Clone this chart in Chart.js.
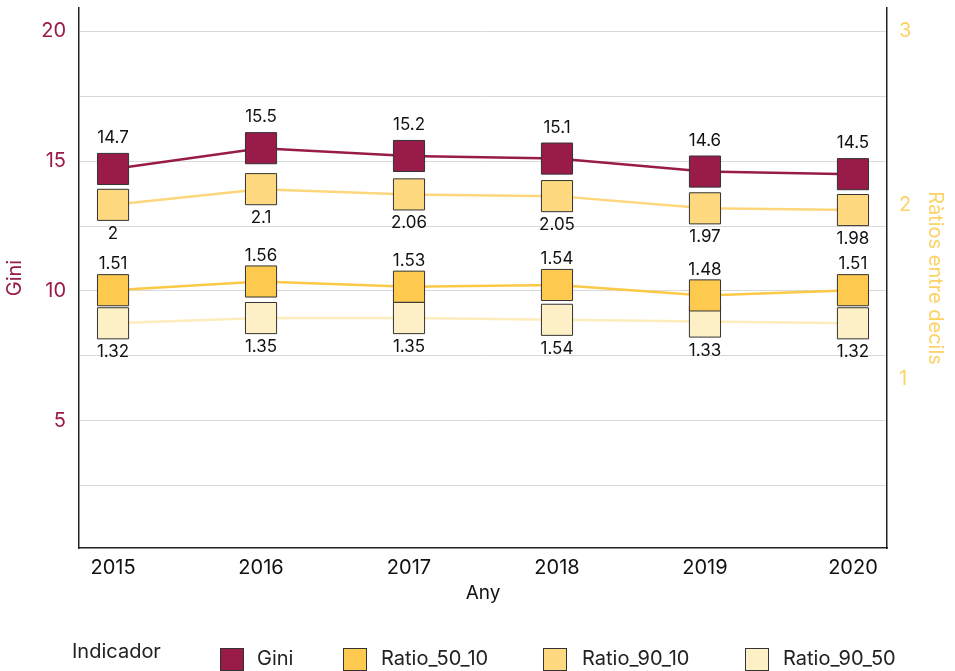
<!DOCTYPE html>
<html>
<head>
<meta charset="utf-8">
<script src="https://cdn.jsdelivr.net/npm/chart.js@4.4.1/dist/chart.umd.min.js"></script>
<style>
  html, body { margin: 0; padding: 0; background: #fff; }
  #wrap { position: relative; width: 955px; height: 671px; font-family: Inter, "Noto Sans", sans-serif; }
  #chart { position: absolute; left: 0; top: 0; }
  .leg { position: absolute; font-size: 20px; color: #222; line-height: 24px; white-space: nowrap; }
  .box { position: absolute; width: 24px; height: 23px; border: 1px solid #333; box-sizing: border-box; }
</style>
</head>
<body>
<div id="wrap">
  <canvas id="chart" width="955" height="671"></canvas>
  <div id="legend"></div>
</div>
<script>
// Data
const years = [2015, 2016, 2017, 2018, 2019, 2020];
const gini = [14.7, 15.5, 15.2, 15.1, 14.6, 14.5];
const ratio5010 = [1.51, 1.56, 1.53, 1.54, 1.48, 1.51];
const ratio9010 = [2.0, 2.09, 2.06, 2.05, 1.98, 1.97];
const ratio9050 = [1.32, 1.35, 1.35, 1.34, 1.33, 1.32];

// printed labels (as they appear in the original)
const giniLabels = ['14.7', '15.5', '15.2', '15.1', '14.6', '14.5'];
const ratio5010Labels = ['1.51', '1.56', '1.53', '1.54', '1.48', '1.51'];
const ratio9010Labels = ['2', '2.1', '2.06', '2.05', '1.97', '1.98'];
const ratio9050Labels = ['1.32', '1.35', '1.35', '1.54', '1.33', '1.32'];

const seriesNames = ['Gini', 'Ratio_50_10', 'Ratio_90_10', 'Ratio_90_50'];
const fillColors = ['#991b4a', '#fdca4f', '#fed97f', '#fef0c6'];
const lineColors = ['#991b4a', '#fcc947', '#fed77d', '#fdecbc'];

const FONT = 'Inter, "Noto Sans", sans-serif';

function makeSet(i, values, axis) {
    return {
        label: seriesNames[i],
        data: values.map((v, j) => ({ x: years[j], y: v })),
        yAxisID: axis,
        borderColor: lineColors[i],
        borderWidth: 2.5,
        pointStyle: 'rect',
        pointRadius: 22,
        pointHoverRadius: 22,
        pointBackgroundColor: fillColors[i],
        pointBorderColor: '#333',
        pointBorderWidth: 1,
        tension: 0,
    };
}

// labels above (negative) or below (positive) each point
const valueLabels = [
    { text: giniLabels, dy: -31 },
    { text: ratio5010Labels, dy: -26 },
    { text: ratio9010Labels, dy: 29 },
    { text: ratio9050Labels, dy: 29 },
];

const labelPlugin = {
    id: 'valueLabels',
    afterDatasetsDraw(chart) {
        const ctx = chart.ctx;
        ctx.save();
        ctx.font = '17px ' + FONT;
        ctx.fillStyle = '#111';
        ctx.textAlign = 'center';
        ctx.textBaseline = 'middle';
        valueLabels.forEach((cfg, i) => {
            chart.getDatasetMeta(i).data.forEach((pt, j) => {
                ctx.fillText(cfg.text[j], pt.x, pt.y + cfg.dy);
            });
        });
        ctx.restore();
    }
};

// fixed axis boxes so the plot area matches the original
function fixWidth(w) {
    return s => { s.width = w; s.paddingTop = 0; s.paddingBottom = 0; };
}

new Chart(document.getElementById('chart'), {
    type: 'line',
    data: {
        datasets: [
            makeSet(0, gini, 'y'),
            makeSet(1, ratio5010, 'y2'),
            makeSet(2, ratio9010, 'y2'),
            makeSet(3, ratio9050, 'y2'),
        ]
    },
    options: {
        responsive: false,
        animation: false,
        events: [],
        layout: { autoPadding: false, padding: { top: 8, bottom: 64, left: 0, right: 0 } },
        plugins: { legend: { display: false }, tooltip: { enabled: false } },
        scales: {
            x: {
                type: 'linear',
                min: 2014.77,
                max: 2020.23,
                afterFit: s => { s.height = 59; s.paddingLeft = 0; s.paddingRight = 0; },
                grid: { display: false, drawTicks: false },
                border: { display: true, color: '#222', width: 1.5 },
                ticks: {
                    stepSize: 1,
                    includeBounds: false,
                    padding: 8,
                    color: '#111',
                    font: { family: FONT, size: 20 },
                    callback: v => String(v),
                },
                title: { display: true, text: 'Any', color: '#111', font: { family: FONT, size: 19 }, padding: { top: 4, bottom: 2 } }
            },
            y: {
                position: 'left',
                min: 0.1,
                max: 20.9,
                afterFit: fixWidth(79),
                grid: { color: '#d9d9d9', lineWidth: 1, drawTicks: false },
                border: { display: true, color: '#222', width: 1.5 },
                ticks: {
                    stepSize: 2.5,
                    includeBounds: false,
                    padding: 13,
                    color: '#991b4a',
                    font: { family: FONT, size: 20 },
                    callback: v => (v % 5 === 0 ? String(v) : ''),
                },
                title: { display: true, text: 'Gini', color: '#991b4a', font: { family: FONT, size: 20 }, padding: { top: 3, bottom: 4 } }
            },
            y2: {
                position: 'right',
                min: 0.03,
                max: 3.13,
                afterFit: fixWidth(68),
                grid: { display: false, drawTicks: false },
                border: { display: true, color: '#222', width: 1.5 },
                ticks: {
                    stepSize: 1,
                    includeBounds: false,
                    padding: 12,
                    color: '#fdd266',
                    font: { family: FONT, size: 20 },
                    callback: v => String(v),
                },
                title: { display: true, text: 'Ràtios entre decils', color: '#fdd266', font: { family: FONT, size: 20 }, padding: { top: 8, bottom: 4 } }
            }
        }
    },
    plugins: [labelPlugin]
});

// legend row under the chart
const legendPos = [
    { box: 220, text: 257 },
    { box: 343, text: 381 },
    { box: 543, text: 582 },
    { box: 745, text: 783 },
];
const legend = document.getElementById('legend');
let html = '<div class="leg" style="left:72px;top:639px;">Indicador</div>';
seriesNames.forEach((name, i) => {
    html += `<div class="box" style="left:${legendPos[i].box}px;top:648px;background:${fillColors[i]}"></div>`;
    html += `<div class="leg" style="left:${legendPos[i].text}px;top:646px;">${name}</div>`;
});
legend.innerHTML = html;
</script>
</body>
</html>
